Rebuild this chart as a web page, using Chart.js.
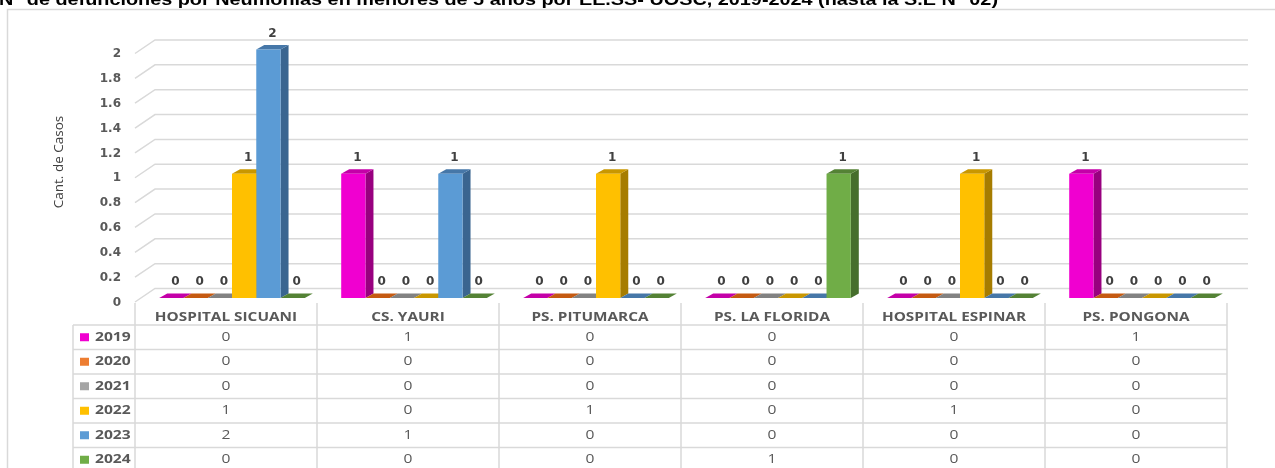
<!DOCTYPE html>
<html>
<head>
<meta charset="utf-8">
<script src="https://cdn.jsdelivr.net/npm/chart.js@4.4.1/dist/chart.umd.min.js"></script>
<style>
  html, body { margin: 0; padding: 0; background: #fff; overflow: hidden; }
  #myChart { display: block; }
</style>
</head>
<body>
<canvas id="myChart" width="1275" height="468"></canvas>
<script>
// ================= data =================
var categories = ['HOSPITAL SICUANI', 'CS. YAURI', 'PS. PITUMARCA', 'PS. LA FLORIDA', 'HOSPITAL ESPINAR', 'PS. PONGONA'];
var years = ['2019', '2020', '2021', '2022', '2023', '2024'];
var s2019 = [0, 1, 0, 0, 0, 1];
var s2020 = [0, 0, 0, 0, 0, 0];
var s2021 = [0, 0, 0, 0, 0, 0];
var s2022 = [1, 0, 1, 0, 1, 0];
var s2023 = [2, 1, 0, 0, 0, 0];
var s2024 = [0, 0, 0, 1, 0, 0];
var yTicks = [0, 0.2, 0.4, 0.6, 0.8, 1, 1.2, 1.4, 1.6, 1.8, 2];
var yTickLabels = ['0', '0.2', '0.4', '0.6', '0.8', '1', '1.2', '1.4', '1.6', '1.8', '2'];

var titleText = 'N° de defunciones por Neumonías en menores de 5 años por EE.SS- UOSC, 2019-2024 (hasta la S.E N° 02)';
var yTitle = 'Cant. de Casos';

// colors: front / top / side
var frontColors = ['#F000D0', '#ED7D31', '#A5A5A5', '#FFC000', '#5B9BD5', '#70AD47'];
var topColors   = ['#C400A8', '#C55A11', '#828282', '#C99700', '#4677A8', '#548235'];
var sideColors  = ['#98007F', '#A34A0E', '#6E6E6E', '#A67C00', '#3A6590', '#466E2C'];

var seriesList = [s2019, s2020, s2021, s2022, s2023, s2024];

// 3d look
var shiftX = 6, shiftY = -4.5;   // front face of bars vs front wall
var depthX = 8, depthY = 4.5;    // bar depth
var gridColor = '#D9D9D9';
var textGray = '#595959';

var datasets = seriesList.map(function(s, i){
  return {
    label: years[i],
    data: s,
    backgroundColor: frontColors[i],
    borderWidth: 0,
    categoryPercentage: 0.8,
    barPercentage: 1,
    clip: false
  };
});

// text stretched sideways (the original picture is wider than its fonts)
function wideText(ctx, txt, x, y, sx, align){
  var w = ctx.measureText(txt).width * sx;
  var left = x;
  if (align === 'center') left = x - w / 2;
  else if (align === 'right') left = x - w;
  ctx.save();
  ctx.textAlign = 'left';
  ctx.translate(left, y);
  ctx.scale(sx, 1);
  ctx.fillText(txt, 0, 0);
  ctx.restore();
}

// ============== background, table, 3d faces ==============
var excel3d = {
  id: 'excel3d',
  beforeDatasetsDraw: function(chart){
    var ctx = chart.ctx;
    var xs = chart.scales.x, ys = chart.scales.y;
    var area = chart.chartArea;

    // title (cut at the top)
    ctx.save();
    ctx.fillStyle = '#000';
    ctx.font = 'bold 17px "Liberation Sans", Arial, sans-serif';
    ctx.textBaseline = 'alphabetic';
    var tw = ctx.measureText(titleText).width;
    wideText(ctx, titleText, -1, 5, 999 / tw, 'left');

    // outer frame
    ctx.strokeStyle = gridColor;
    ctx.lineWidth = 1.5;
    ctx.beginPath();
    ctx.moveTo(7.5, 470);
    ctx.lineTo(7.5, 9.5);
    ctx.lineTo(1280, 9.5);
    ctx.stroke();

    // walls + gridlines
    ctx.strokeStyle = gridColor;
    ctx.lineWidth = 1.5;
    yTicks.forEach(function(v){
      var p = ys.getPixelForValue(v);
      ctx.beginPath();
      ctx.moveTo(area.left, p - 0.5);
      ctx.lineTo(area.left + 20, p - 14);
      ctx.lineTo(area.right + 21, p - 14);
      ctx.stroke();
    });

    // y tick labels
    ctx.fillStyle = textGray;
    ctx.font = 'bold 12px "DejaVu Sans", sans-serif';
    ctx.textAlign = 'right';
    ctx.textBaseline = 'middle';
    yTicks.forEach(function(v, i){
      ctx.fillText(yTickLabels[i], 121, ys.getPixelForValue(v));
    });

    // y title
    ctx.save();
    ctx.translate(59, 162);
    ctx.rotate(-Math.PI / 2);
    ctx.fillStyle = '#404040';
    ctx.font = '13.5px "Open Sans", sans-serif';
    ctx.textAlign = 'center';
    ctx.textBaseline = 'middle';
    ctx.fillText(yTitle, 0, 0);
    ctx.restore();

    // data table
    var step = xs.getPixelForValue(1) - xs.getPixelForValue(0);
    var rowTop = 325, rowH = 24.5;
    ctx.strokeStyle = gridColor;
    ctx.lineWidth = 1.5;
    for (var r = 0; r <= years.length; r++) {
      ctx.beginPath();
      ctx.moveTo(73, rowTop + r * rowH);
      ctx.lineTo(area.right, rowTop + r * rowH);
      ctx.stroke();
    }
    ctx.beginPath();
    ctx.moveTo(73, rowTop);
    ctx.lineTo(73, 470);
    ctx.stroke();
    for (var c = 0; c <= categories.length; c++) {
      var bx = xs.getPixelForValue(0) - step / 2 + c * step;
      ctx.beginPath();
      ctx.moveTo(bx, 303);
      ctx.lineTo(bx, 470);
      ctx.stroke();
    }

    ctx.fillStyle = textGray;
    ctx.textBaseline = 'middle';
    ctx.font = 'bold 13px "Open Sans", sans-serif';
    categories.forEach(function(cat, i){
      wideText(ctx, cat, xs.getPixelForValue(i), 317.5, 1.18, 'center');
    });

    seriesList.forEach(function(s, r){
      var cy = rowTop + rowH / 2 + r * rowH;
      ctx.fillStyle = frontColors[r];
      ctx.fillRect(80, cy - 4, 9, 8);
      ctx.fillStyle = textGray;
      ctx.font = 'bold 13px "Open Sans", sans-serif';
      wideText(ctx, years[r], 95, cy, 1.2, 'left');
      ctx.font = '13px "Open Sans", sans-serif';
      s.forEach(function(v, i){
        wideText(ctx, String(v), xs.getPixelForValue(i), cy, 1.2, 'center');
      });
    });
    ctx.restore();

    // 3d sides and tops, bars' front faces come on top of them
    ctx.save();
    ctx.translate(shiftX, shiftY);
    chart.data.datasets.forEach(function(ds, di){
      var meta = chart.getDatasetMeta(di);
      meta.data.forEach(function(bar){
        var l = bar.x - bar.width / 2, rr = bar.x + bar.width / 2;
        var top = bar.y, base = bar.base;
        if (base - top > 0.5) {
          ctx.fillStyle = sideColors[di];
          ctx.beginPath();
          ctx.moveTo(rr, top);
          ctx.lineTo(rr + depthX, top - depthY);
          ctx.lineTo(rr + depthX, base - depthY);
          ctx.lineTo(rr, base);
          ctx.closePath();
          ctx.fill();
        }
        ctx.fillStyle = topColors[di];
        ctx.beginPath();
        ctx.moveTo(l, top);
        ctx.lineTo(rr, top);
        ctx.lineTo(rr + depthX, top - depthY);
        ctx.lineTo(l + depthX, top - depthY);
        ctx.closePath();
        ctx.fill();
      });
    });
    // left open on purpose: dataset drawing uses this translation
  },
  afterDatasetsDraw: function(chart){
    var ctx = chart.ctx;
    ctx.restore();
    ctx.save();
    ctx.fillStyle = '#404040';
    ctx.font = 'bold 12px "DejaVu Sans", sans-serif';
    ctx.textAlign = 'center';
    ctx.textBaseline = 'middle';
    chart.data.datasets.forEach(function(ds, di){
      var meta = chart.getDatasetMeta(di);
      meta.data.forEach(function(bar, i){
        ctx.fillText(String(ds.data[i]), bar.x + shiftX + depthX / 2, bar.y + shiftY - 16);
      });
    });
    ctx.restore();
  }
};

var ctx1 = document.getElementById('myChart').getContext('2d');

new Chart(ctx1, {
  type: 'bar',
  data: {
    labels: categories,
    datasets: datasets
  },
  options: {
    responsive: false,
    animation: false,
    layout: {
      padding: { left: 135, right: 48, top: 54, bottom: 165.5 }
    },
    scales: {
      x: { display: false },
      y: { display: false, min: 0, max: 2 }
    },
    plugins: {
      legend: { display: false },
      tooltip: { enabled: false }
    }
  },
  plugins: [excel3d]
});
</script>
</body>
</html>
